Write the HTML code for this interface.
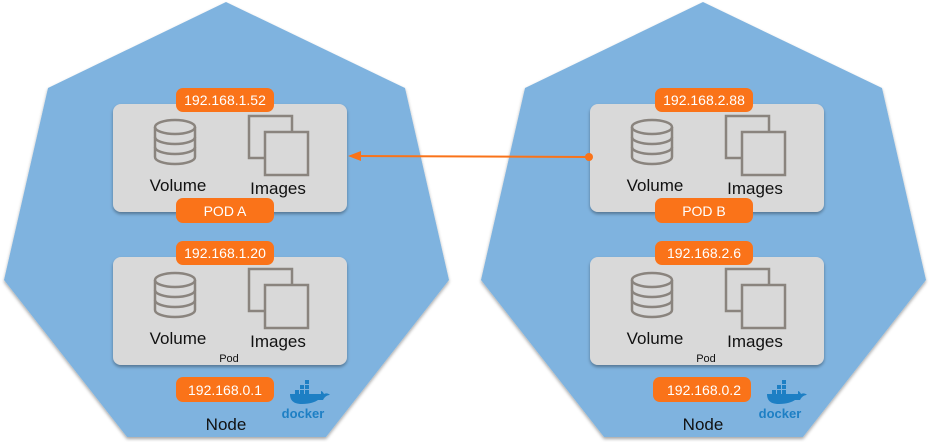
<!DOCTYPE html>
<html><head><style>
body{margin:0;width:929px;height:442px;overflow:hidden;background:#fff;font-family:"Liberation Sans",sans-serif}
</style></head><body>
<svg width="929" height="442" viewBox="0 0 929 442" xmlns="http://www.w3.org/2000/svg" font-family="Liberation Sans, sans-serif">
<defs>
<filter id="sh" x="-10%" y="-10%" width="120%" height="130%"><feDropShadow dx="0" dy="2" stdDeviation="1.5" flood-color="#000" flood-opacity="0.35"/></filter>
<g id="vol" fill="none" stroke="#8a847e" stroke-width="2.5">
<ellipse cx="0" cy="0" rx="20" ry="7"/>
<path d="M-20 0 V30 A20 7 0 0 0 20 30 V0"/>
<path d="M-20 10 A20 7 0 0 0 20 10 M-20 20 A20 7 0 0 0 20 20"/>
</g>
<g id="img" fill="none" stroke="#8a847e" stroke-width="2.5">
<rect x="0" y="0" width="43" height="42" fill="none"/>
<rect x="16" y="16" width="43" height="43" fill="#d9d9d9"/>
</g>
<g id="node">
<polygon points="226,2 405,88 449,280 326,437 127,437 4,280 48,88" fill="#7fb3df" filter="url(#sh)"/>
<rect x="113" y="104" width="234" height="108" rx="8" fill="#d9d9d9" filter="url(#sh)"/>
<rect x="113" y="257" width="234" height="108" rx="8" fill="#d9d9d9" filter="url(#sh)"/>
<use href="#vol" x="175" y="127"/>
<use href="#img" x="249" y="116"/>
<use href="#vol" x="175" y="280"/>
<use href="#img" x="249" y="269"/>
<text x="178" y="191" font-size="17" text-anchor="middle" fill="#111">Volume</text>
<text x="278" y="194" font-size="17" text-anchor="middle" fill="#111">Images</text>
<text x="178" y="344" font-size="17" text-anchor="middle" fill="#111">Volume</text>
<text x="278" y="347" font-size="17" text-anchor="middle" fill="#111">Images</text>
<text x="229" y="362" font-size="11" text-anchor="middle" fill="#111">Pod</text>
<rect x="176" y="377" width="98" height="25" rx="7" fill="#fa7319"/>
<text x="226" y="430" font-size="17" text-anchor="middle" fill="#111">Node</text>
<g fill="#1d7fc4">
<path d="M290 400 h33 c2-4 5-5 7-5 c-2-2-4-2-6-1 c-1-2-2-3-3-3 v3 h-31 c0 5 2 10 12 10 c8 0 13-2 16-4z"/>
<rect x="295" y="390" width="4" height="4"/><rect x="300" y="390" width="4" height="4"/><rect x="305" y="390" width="4" height="4"/><rect x="300" y="385" width="4" height="4"/><rect x="305" y="385" width="4" height="4"/><rect x="305" y="380" width="4" height="4"/>
<text x="303" y="418" font-size="13" font-weight="bold" text-anchor="middle">docker</text>
</g>
</g>
</defs>
<use href="#node"/>
<use href="#node" x="477"/>
<g fill="#fa7319">
<rect x="176" y="88" width="98" height="24" rx="7"/>
<rect x="176" y="198" width="98" height="25" rx="7"/>
<rect x="176" y="241" width="98" height="24" rx="7"/>
<rect x="655" y="88" width="98" height="24" rx="7"/>
<rect x="655" y="198" width="98" height="25" rx="7"/>
<rect x="655" y="241" width="98" height="24" rx="7"/>
</g>
<g fill="#fff" font-size="14" text-anchor="middle">
<text x="225" y="105">192.168.1.52</text>
<text x="225" y="216">POD A</text>
<text x="225" y="258">192.168.1.20</text>
<text x="225" y="395">192.168.0.1</text>
<text x="704" y="105">192.168.2.88</text>
<text x="704" y="216">POD B</text>
<text x="704" y="258">192.168.2.6</text>
<text x="704" y="395">192.168.0.2</text>
</g>
<line x1="589" y1="157" x2="358" y2="156" stroke="#fa7319" stroke-width="2"/>
<polygon points="348,156 361,151 361,161" fill="#fa7319"/>
<circle cx="589" cy="157" r="4" fill="#fa7319"/>
</svg>
</body></html>
